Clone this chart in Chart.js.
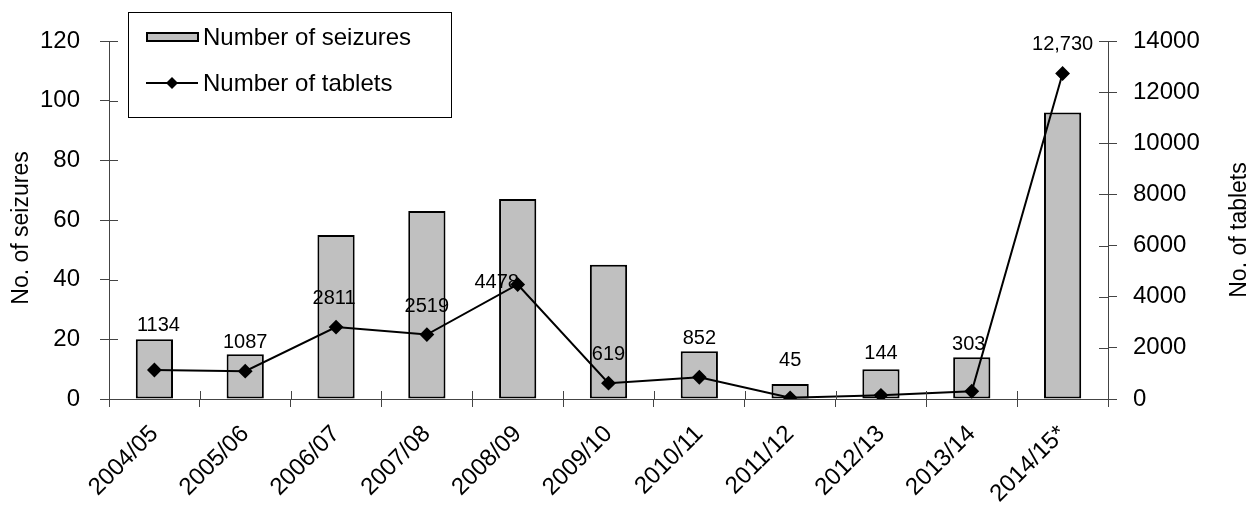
<!DOCTYPE html>
<html>
<head>
<meta charset="utf-8">
<script src="https://cdn.jsdelivr.net/npm/chart.js@4/dist/chart.umd.min.js"></script>
<style>
  html, body { margin: 0; padding: 0; background: #fff; }
  #wrap { width: 1253px; height: 505px; }
</style>
</head>
<body>
<div id="wrap"><canvas id="chart" width="1253" height="505"></canvas></div>
<script>
// Data
const years = ['2004/05', '2005/06', '2006/07', '2007/08', '2008/09', '2009/10',
               '2010/11', '2011/12', '2012/13', '2013/14', '2014/15*'];
const seizures = [20, 15, 55, 63, 67, 45, 16, 5, 10, 14, 96];
const tablets = [1134, 1087, 2811, 2519, 4478, 619, 852, 45, 144, 303, 12730];

const FONT = "'Liberation Sans', Arial, sans-serif";
const axisGrey = '#444';

// where each tablet label sits relative to its marker (dx, dy)
const labelShift = [[4, -45], [0, -29], [-2, -29], [0, -28], [-21, -2], [0, -29],
                    [0, -39], [0, -37], [0, -42], [-3, -47], [0, -29]];

const extras = {
    id: 'extras',
    afterDraw(chart) {
        const c = chart.ctx;
        const area = chart.chartArea;
        const y = chart.scales.y, y1 = chart.scales.y1;
        c.save();

        // inner halves of the tick marks
        c.strokeStyle = axisGrey;
        c.lineWidth = 1;
        c.beginPath();
        y.ticks.forEach((t, i) => {
            const py = Math.round(y.getPixelForTick(i)) + 0.5;
            c.moveTo(area.left, py); c.lineTo(area.left + 9, py);
        });
        y1.ticks.forEach((t, i) => {
            const py = Math.round(y1.getPixelForTick(i)) + 0.5;
            c.moveTo(area.right - 9, py); c.lineTo(area.right, py);
        });
        const step = (area.right - area.left) / years.length;
        for (let i = 0; i <= years.length; i++) {
            const px = Math.round(area.left + i * step) + 0.5;
            c.moveTo(px, area.bottom - 8); c.lineTo(px, area.bottom);
        }
        c.stroke();

        // value labels on the tablets line
        const meta = chart.getDatasetMeta(1);
        c.fillStyle = '#000';
        c.font = '20px ' + FONT;
        c.textAlign = 'center';
        c.textBaseline = 'middle';
        meta.data.forEach((pt, i) => {
            const v = tablets[i];
            const txt = v >= 10000 ? v.toLocaleString('en-US') : String(v);
            c.fillText(txt, pt.x + labelShift[i][0], pt.y + labelShift[i][1]);
        });

        // axis titles
        c.font = '23px ' + FONT;
        c.save();
        c.translate(22, 228);
        c.rotate(-Math.PI / 2);
        c.fillText('No. of seizures', 0, 0);
        c.restore();
        c.save();
        c.translate(1240, 230);
        c.rotate(-Math.PI / 2);
        c.fillText('No. of tablets', 0, 0);
        c.restore();

        // legend
        c.fillStyle = '#fff';
        c.fillRect(128, 12, 323, 105);
        c.strokeStyle = '#000';
        c.lineWidth = 1;
        c.strokeRect(128.5, 12.5, 323, 105);
        c.fillStyle = '#c0c0c0';
        c.fillRect(147, 33, 51, 8);
        c.lineWidth = 2;
        c.strokeRect(147, 33, 51, 8);
        c.beginPath();
        c.moveTo(146, 83); c.lineTo(198, 83);
        c.stroke();
        c.fillStyle = '#000';
        c.beginPath();
        c.moveTo(172, 77); c.lineTo(178, 83); c.lineTo(172, 89); c.lineTo(166, 83);
        c.closePath();
        c.fill();
        c.font = '24px ' + FONT;
        c.textAlign = 'left';
        c.fillText(chart.data.datasets[0].label, 203, 38);
        c.fillText(chart.data.datasets[1].label, 203, 84);

        c.restore();
    }
};

const ctx = document.getElementById('chart').getContext('2d');
new Chart(ctx, {
    data: {
        labels: years,
        datasets: [{
            type: 'bar',
            label: 'Number of seizures',
            data: seizures,
            yAxisID: 'y',
            backgroundColor: '#c0c0c0',
            borderColor: '#000',
            borderWidth: 2,
            borderSkipped: false,
            barPercentage: 0.41,
            categoryPercentage: 1,
            order: 2
        }, {
            type: 'line',
            label: 'Number of tablets',
            data: tablets,
            yAxisID: 'y1',
            borderColor: '#000',
            borderWidth: 2,
            pointStyle: 'rectRot',
            pointRadius: 6,
            pointBackgroundColor: '#000',
            pointBorderColor: '#000',
            tension: 0,
            order: 1
        }]
    },
    options: {
        responsive: false,
        animation: false,
        events: [],
        layout: { padding: { top: 41, left: 0, right: 0, bottom: 0 } },
        plugins: {
            legend: { display: false },
            title: { display: false },
            tooltip: { enabled: false }
        },
        scales: {
            x: {
                grid: { drawOnChartArea: false, tickLength: 8, color: axisGrey, offset: true },
                border: { color: axisGrey },
                ticks: {
                    color: '#000',
                    font: { family: FONT, size: 24 },
                    minRotation: 45, maxRotation: 45,
                    autoSkip: false,
                    padding: 13
                },
                afterFit: s => { s.height = 106; }
            },
            y: {
                position: 'left',
                min: 0, max: 120,
                grid: { drawOnChartArea: false, tickLength: 9, color: axisGrey },
                border: { color: axisGrey },
                ticks: { stepSize: 20, color: '#000', font: { family: FONT, size: 24 }, padding: 20 },
                afterFit: s => { s.width = 109; }
            },
            y1: {
                position: 'right',
                min: 0, max: 14000,
                grid: { drawOnChartArea: false, tickLength: 9, color: axisGrey },
                border: { color: axisGrey },
                ticks: {
                    stepSize: 2000, color: '#000', font: { family: FONT, size: 24 }, padding: 16,
                    callback: v => String(v)
                },
                afterFit: s => { s.width = 145; }
            }
        }
    },
    plugins: [extras]
});
</script>
</body>
</html>
